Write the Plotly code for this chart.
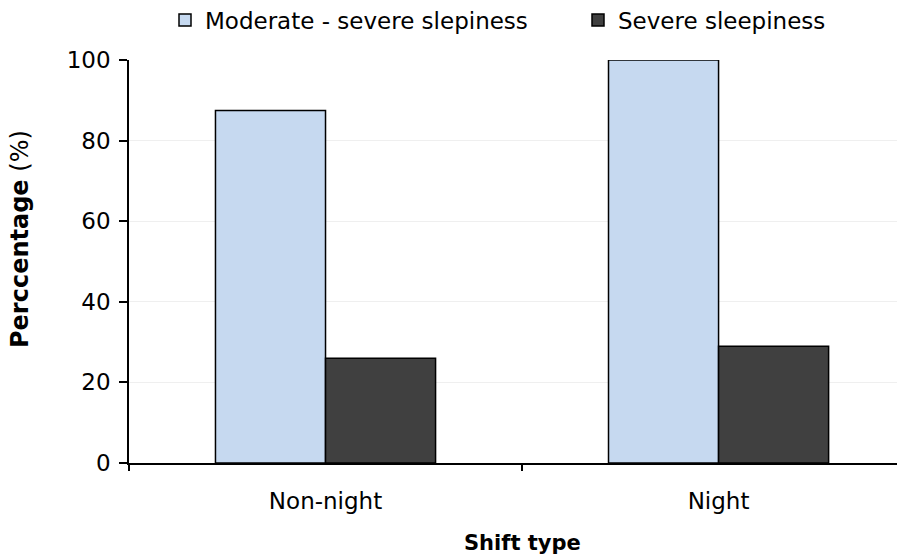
import plotly.graph_objects as go

categories = ["Non-night", "Night"]
moderate_severe = [87.5, 100]
severe = [26, 29]
series_names = ["Moderate - severe slepiness", "Severe sleepiness"]
y_ticks = [0, 20, 40, 60, 80, 100]
x_title = "<b>Shift type</b>"
y_title = "<b>Perccentage</b> (%)"

FONT = "DejaVu Sans"

fig = go.Figure()
fig.add_trace(go.Bar(x=categories, y=moderate_severe, name=series_names[0],
                     marker=dict(color="#c6d9f0", line=dict(color="#000000", width=1.5)),
                     legend="legend"))
fig.add_trace(go.Bar(x=categories, y=severe, name=series_names[1],
                     marker=dict(color="#404040", line=dict(color="#000000", width=1.5)),
                     legend="legend2"))

leg_common = dict(orientation="h", yanchor="middle", y=(463 - 20) / 403, xanchor="left",
                  font=dict(size=23, family=FONT), itemwidth=30, bgcolor="rgba(0,0,0,0)")

fig.update_layout(
    width=897, height=557,
    margin=dict(l=129, r=0, t=60, b=94, autoexpand=False),
    paper_bgcolor="white", plot_bgcolor="white",
    barmode="group", bargap=0.44, bargroupgap=0,
    font=dict(family=FONT, color="#000000"),
    legend=dict(x=(165 - 129) / 768, **leg_common),
    legend2=dict(x=(578 - 129) / 768, **leg_common),
    showlegend=True,
)
fig.update_xaxes(
    range=[-0.5, 1.454], showline=True, linecolor="#000000", linewidth=1.5,
    ticks="outside", tickson="boundaries", ticklen=6, tickcolor="#000000", tickwidth=1.5,
    tickfont=dict(size=23, family=FONT), ticklabelstandoff=17,
    showgrid=False,
)
fig.update_yaxes(
    range=[0, 100], tickvals=y_ticks, showline=True, linecolor="#000000", linewidth=1.5,
    ticks="outside", ticklen=8, tickcolor="#000000", tickwidth=1.5,
    tickfont=dict(size=23, family=FONT), ticklabelstandoff=4,
    showgrid=True, gridcolor="#efefef", gridwidth=1, zeroline=False,
)
fig.add_annotation(text=x_title, xref="paper", yref="paper",
                   x=(522 - 129) / 768, y=-(543 - 463) / 403, showarrow=False,
                   xanchor="center", yanchor="middle", font=dict(size=21, family=FONT))
fig.add_annotation(text=y_title, xref="paper", yref="paper", textangle=-90,
                   x=-(129 - 20) / 768, y=(463 - 239) / 403, showarrow=False,
                   xanchor="center", yanchor="middle", font=dict(size=24, family=FONT))

fig.write_html("out.html")
